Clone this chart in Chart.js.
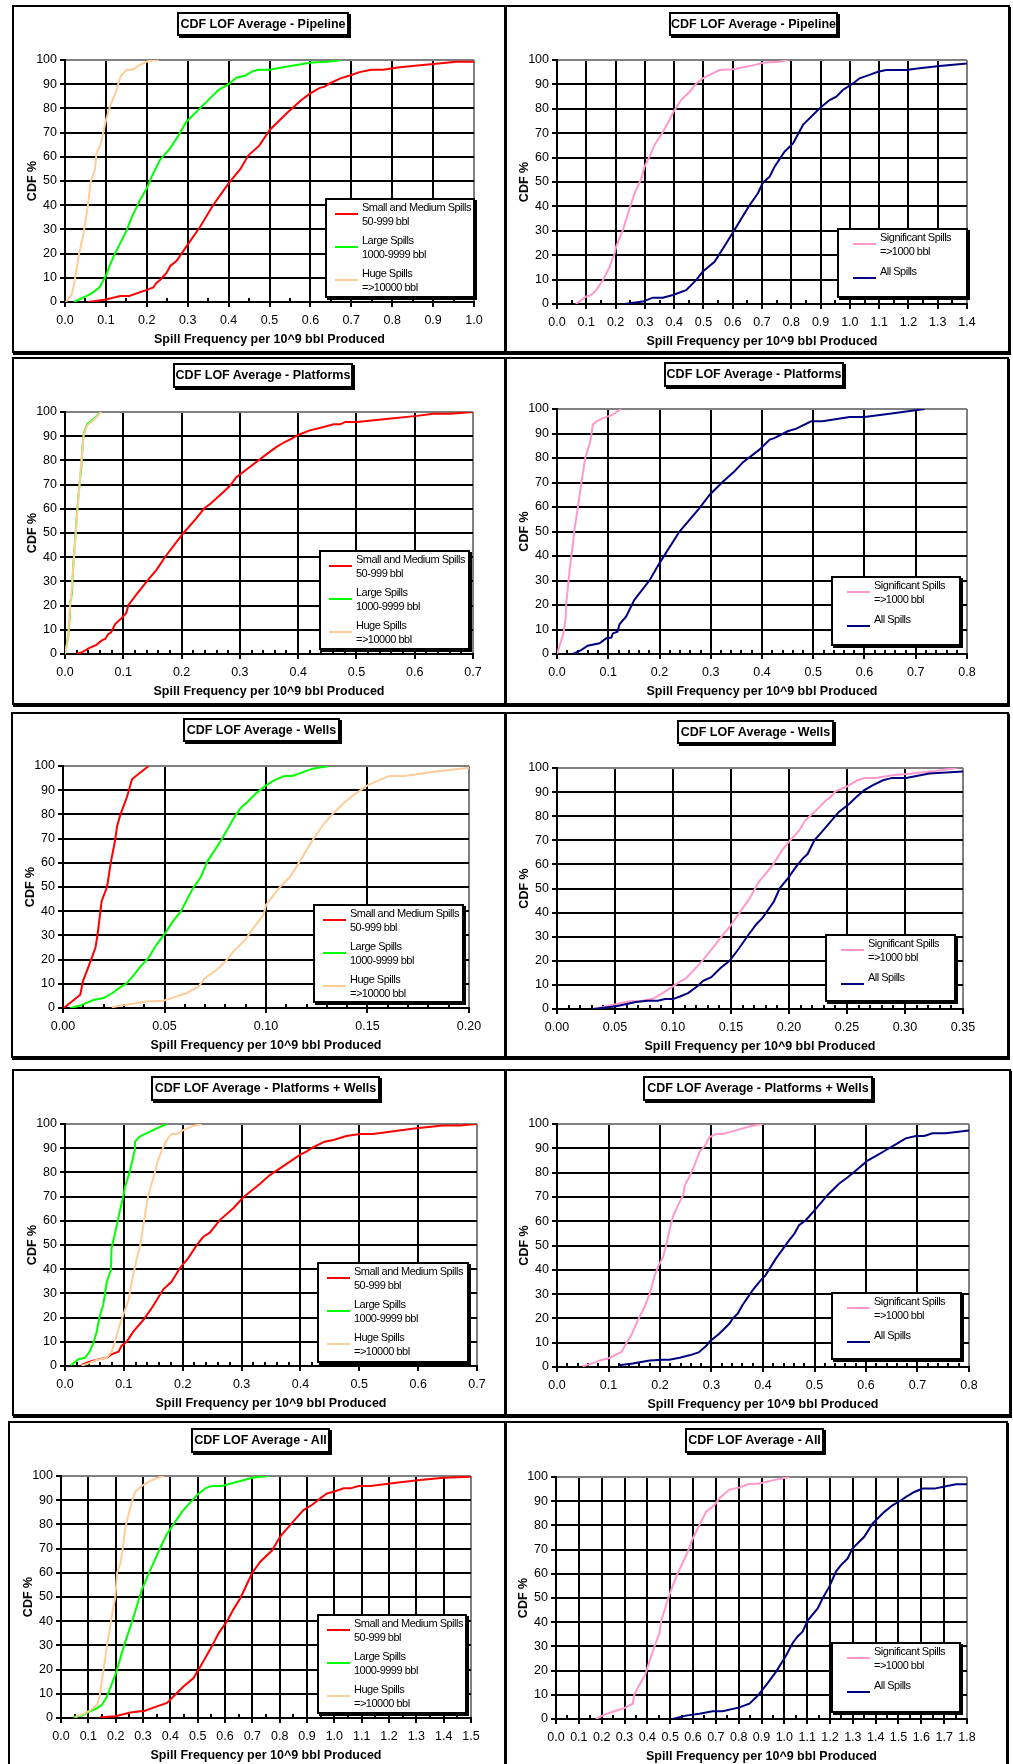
<!DOCTYPE html>
<html><head><meta charset="utf-8">
<script src="https://cdn.jsdelivr.net/npm/chart.js@4.4.1/dist/chart.umd.min.js"></script>
<style>
html,body{margin:0;padding:0;background:#fff;}
body{position:relative;width:1013px;height:1764px;overflow:hidden;font-family:"Liberation Sans",Arial,sans-serif;}
.frame{position:absolute;border:2px solid #000;box-sizing:border-box;box-shadow:1px 2px 0 #000;background:#fff;}
.ttl{position:absolute;border:2px solid #000;box-sizing:border-box;background:#fff;box-shadow:2px 2px 0 #000;font-weight:bold;font-size:12.5px;text-align:center;white-space:nowrap;color:#000;}
.leg{position:absolute;border:2px solid #000;box-sizing:border-box;background:#fff;box-shadow:2px 2px 0 #000;}
.leg .ln{position:absolute;height:2px;}
.leg .tx{position:absolute;font-size:11px;letter-spacing:-0.5px;line-height:14px;white-space:nowrap;color:#000;}
canvas{position:absolute;}
</style></head>
<body>
<script>
// ---------- DATA (x = spill frequency per 10^9 bbl, y = CDF %) ----------
const seriesNamesA = ['Small and Medium Spills|50-999 bbl', 'Large Spills|1000-9999 bbl', 'Huge Spills|=>10000 bbl'];
const seriesNamesB = ['Significant Spills|=>1000 bbl', 'All Spills'];
const yTicks = [0,10,20,30,40,50,60,70,80,90,100];

const pipeSmall = [[0.057,0],[0.1,1],[0.135,2.5],[0.157,2.5],[0.2,5],[0.216,6],[0.224,8],[0.232,9],[0.248,12],[0.258,15],[0.273,17],[0.297,23],[0.33,31],[0.362,40],[0.4,49],[0.429,55],[0.448,60.5],[0.475,64.6],[0.5,71],[0.542,78],[0.578,83.5],[0.598,86],[0.623,88.5],[0.635,89],[0.648,90.4],[0.672,92.3],[0.7,93.8],[0.72,95],[0.749,96],[0.778,96],[0.818,97],[0.9,98.3],[0.957,99.3],[1.0,99.3]];
const pipeLarge = [[0.022,0],[0.053,2.5],[0.065,3.6],[0.084,6],[0.1,10.7],[0.11,15.3],[0.122,20],[0.151,29.7],[0.163,35],[0.183,42],[0.2,47],[0.212,51.8],[0.232,58.7],[0.257,63.5],[0.273,67.6],[0.297,74.5],[0.33,80],[0.375,87.6],[0.4,90],[0.419,92.7],[0.44,93.5],[0.46,95.5],[0.476,96],[0.5,96],[0.533,97],[0.603,99],[0.643,99.3],[0.676,100]];
const pipeHuge = [[0.002,0],[0.016,3],[0.022,7],[0.033,18.7],[0.045,28],[0.055,38.7],[0.063,49.7],[0.073,54.5],[0.077,61.4],[0.088,65.6],[0.1,75],[0.11,81],[0.125,87],[0.136,93.4],[0.151,96],[0.165,96],[0.183,98],[0.204,99.6],[0.23,100]];
const pipeSig = [[0.064,0],[0.083,1.6],[0.098,3],[0.117,3.7],[0.134,5.7],[0.157,9.8],[0.18,15.3],[0.197,20.8],[0.202,23.5],[0.225,30.3],[0.248,39.2],[0.265,45.4],[0.288,51.5],[0.299,56.3],[0.316,60.4],[0.333,65.2],[0.362,70.6],[0.384,75.4],[0.396,78.4],[0.424,83.6],[0.453,87],[0.476,90.4],[0.498,92.5],[0.521,93.9],[0.555,95.9],[0.601,96.2],[0.658,97.5],[0.709,99],[0.76,99.3],[0.788,100]];
const pipeAll = [[0.231,0],[0.293,1],[0.327,2.6],[0.361,2.6],[0.396,3.7],[0.441,5.7],[0.475,9.8],[0.498,13.3],[0.538,17.3],[0.578,24.9],[0.623,33.7],[0.658,40.6],[0.686,45.4],[0.703,49.7],[0.726,52.2],[0.743,56.3],[0.777,62.4],[0.806,65.8],[0.84,73.4],[0.897,80.2],[0.931,83.6],[0.954,85],[0.976,87.7],[1.011,90.4],[1.033,92.5],[1.067,93.9],[1.096,95.2],[1.124,95.9],[1.192,95.9],[1.238,96.6],[1.306,97.5],[1.4,98.6]];

const platSmall = [[0.02,0],[0.029,0.7],[0.042,2.5],[0.054,3.8],[0.063,5.6],[0.069,6.2],[0.074,8.2],[0.079,8.9],[0.086,12.4],[0.097,14.8],[0.105,16.9],[0.109,20.3],[0.123,24.7],[0.14,29.9],[0.157,34.8],[0.172,40.2],[0.203,49.9],[0.223,55.4],[0.239,60.2],[0.249,62],[0.269,66.3],[0.283,69.5],[0.294,73.1],[0.317,77.3],[0.346,82.6],[0.363,85.6],[0.377,87.6],[0.389,89],[0.399,90.4],[0.42,92.4],[0.437,93.4],[0.461,94.9],[0.472,94.9],[0.481,95.9],[0.501,95.9],[0.547,97],[0.604,98.4],[0.632,99.3],[0.661,99.3],[0.7,100]];
const platLarge = [[0,0],[0.006,8],[0.008,15.5],[0.009,21.5],[0.012,25],[0.014,36],[0.017,46],[0.021,59.5],[0.025,70.5],[0.028,77],[0.03,85.5],[0.032,91],[0.038,95],[0.049,97],[0.061,100]];
const platHuge = [[0,0],[0.006,7.3],[0.007,14.8],[0.009,21],[0.011,24.5],[0.014,35.4],[0.017,45],[0.021,58.8],[0.025,69.8],[0.027,76.6],[0.03,84.9],[0.032,90.4],[0.038,94.5],[0.049,96.6],[0.062,100]];
const platSig = [[0,0],[0.012,8],[0.017,14.6],[0.018,20.7],[0.025,35],[0.031,44.6],[0.034,50.7],[0.041,60.2],[0.047,69],[0.055,80],[0.064,86],[0.067,89.5],[0.07,93.6],[0.077,95],[0.09,96.3],[0.109,97.7],[0.125,100]];
const platAll = [[0.031,0],[0.047,1.6],[0.06,3.4],[0.083,4.4],[0.096,6.4],[0.106,6.7],[0.109,8.4],[0.118,9.1],[0.122,12.1],[0.135,15.3],[0.151,22.1],[0.181,30.2],[0.2,37.1],[0.239,50],[0.278,59.5],[0.298,65],[0.324,70.4],[0.346,74.5],[0.363,78.3],[0.395,83.4],[0.415,87.5],[0.424,88.1],[0.45,90.9],[0.467,92],[0.496,95],[0.518,95],[0.571,96.7],[0.6,96.7],[0.649,98.1],[0.717,100]];

const wellSmall = [[0.0003,0],[0.0044,2.7],[0.0085,5.5],[0.0098,11],[0.0135,19.2],[0.016,25],[0.017,30.2],[0.018,37],[0.019,44],[0.0217,50.1],[0.0236,60.4],[0.0257,69.4],[0.0266,74.9],[0.0282,79.7],[0.0315,87.2],[0.034,94.5],[0.0364,96.2],[0.0422,100]];
const wellLarge = [[0.0036,0],[0.0085,1],[0.015,3.3],[0.02,4.1],[0.025,6.5],[0.028,8.5],[0.031,9.9],[0.035,13.7],[0.038,17],[0.042,20.6],[0.046,26.1],[0.05,30.5],[0.054,35.7],[0.058,39.8],[0.064,49.5],[0.068,54.3],[0.071,60.4],[0.078,69.4],[0.085,79.7],[0.088,83.1],[0.091,85.2],[0.095,88.6],[0.1,92],[0.104,94.1],[0.109,95.9],[0.113,95.9],[0.123,98.9],[0.131,100]];
const wellHuge = [[0.024,0.3],[0.0315,1.4],[0.041,2.7],[0.0495,3],[0.056,4.8],[0.061,6.2],[0.0668,8.9],[0.07,12.4],[0.0758,15.8],[0.0807,19.9],[0.084,23.4],[0.0897,28.2],[0.0938,33],[0.0988,38.5],[0.1,42.6],[0.107,50.1],[0.112,54.3],[0.117,61.1],[0.123,69.4],[0.128,75.5],[0.133,80.4],[0.139,85.2],[0.143,87.9],[0.15,92],[0.158,95],[0.161,95.9],[0.168,95.9],[0.182,97.5],[0.2,99.3]];
const wellSig = [[0.0316,0],[0.0425,1.1],[0.0525,2.2],[0.0625,3.2],[0.071,3.2],[0.083,4.3],[0.091,6.6],[0.1,9.4],[0.106,11.4],[0.111,12.6],[0.126,20.4],[0.134,25.2],[0.143,30.8],[0.149,34.2],[0.157,39.7],[0.166,45.9],[0.174,52.8],[0.186,59.7],[0.194,65.9],[0.201,70],[0.209,74.2],[0.214,78.3],[0.222,81.8],[0.232,86.6],[0.236,88],[0.24,90.3],[0.249,92.1],[0.259,94.9],[0.266,95.9],[0.275,95.9],[0.289,97],[0.306,97.7],[0.326,98.8],[0.345,100]];
const wellAll = [[0.0316,0],[0.051,1.1],[0.068,2.9],[0.078,3.4],[0.087,3.4],[0.093,4.1],[0.1,4.1],[0.106,5.2],[0.113,6.6],[0.121,9.4],[0.126,11.7],[0.133,13.2],[0.141,17],[0.149,20.1],[0.157,25.2],[0.164,30.1],[0.172,35.3],[0.177,37.7],[0.187,44.6],[0.192,50.1],[0.199,54.2],[0.206,59],[0.212,62.5],[0.216,64.3],[0.222,70.1],[0.227,72.8],[0.232,75.6],[0.243,81.8],[0.252,85.2],[0.258,88],[0.265,90.8],[0.272,92.8],[0.281,94.9],[0.289,95.9],[0.301,95.9],[0.321,97.7],[0.35,98.6]];

const pwSmall = [[0.028,0.4],[0.042,1.8],[0.059,2.9],[0.071,3.4],[0.079,4.8],[0.091,5.9],[0.096,8.3],[0.105,10.1],[0.116,14.2],[0.133,19],[0.147,23.8],[0.167,31.7],[0.181,34.8],[0.195,40.4],[0.209,44.5],[0.224,50],[0.235,53.4],[0.246,55.1],[0.263,60.3],[0.286,65.2],[0.303,69.7],[0.331,75.2],[0.348,78.9],[0.371,82.6],[0.399,87.2],[0.41,88.6],[0.422,90.4],[0.441,92.7],[0.456,93.4],[0.478,95],[0.501,95.9],[0.523,95.9],[0.597,98.2],[0.642,99.4],[0.671,99.4],[0.7,100]];
const pwLarge = [[0.01,0.3],[0.023,2.8],[0.034,3.4],[0.042,5.9],[0.048,9.4],[0.054,14.2],[0.058,19.7],[0.065,25.2],[0.071,34.8],[0.078,39.7],[0.079,48.6],[0.085,54.8],[0.093,63.8],[0.099,70],[0.102,74.1],[0.11,80.3],[0.116,86.5],[0.119,89.9],[0.119,92.7],[0.127,94.8],[0.141,96.4],[0.156,98.2],[0.173,100]];
const pwHuge = [[0.028,0.1],[0.04,1.1],[0.054,2.5],[0.071,3.4],[0.079,5.9],[0.085,10.1],[0.092,16.3],[0.099,21.1],[0.108,27.3],[0.113,34.2],[0.122,44.5],[0.128,50],[0.134,59.6],[0.141,70],[0.153,80.3],[0.158,85.1],[0.167,90.4],[0.173,93.4],[0.181,95.9],[0.19,95.9],[0.201,97.5],[0.218,99.2],[0.232,100]];
const pwSig = [[0.05,0.3],[0.07,1.6],[0.083,2.7],[0.102,3.7],[0.125,6.2],[0.134,9.6],[0.144,13],[0.157,19.2],[0.17,24.7],[0.18,30.2],[0.189,37.1],[0.196,41.2],[0.206,45.3],[0.212,50.1],[0.219,57],[0.225,61.8],[0.235,66.6],[0.245,70.7],[0.248,74.8],[0.257,78.3],[0.267,83.1],[0.277,88.6],[0.288,91.3],[0.296,94.5],[0.309,95.9],[0.322,95.9],[0.354,97.8],[0.377,99.2],[0.399,100]];
const pwAll = [[0.121,0.7],[0.147,1.4],[0.18,2.7],[0.206,3],[0.218,3],[0.238,3.8],[0.257,4.8],[0.275,6],[0.29,8.7],[0.297,10.6],[0.315,13.7],[0.335,17.9],[0.341,19.9],[0.351,22],[0.36,25.4],[0.38,31.6],[0.393,35],[0.405,37.8],[0.425,44.6],[0.451,52.2],[0.461,54.9],[0.47,58.4],[0.483,60.4],[0.503,65.2],[0.525,70.7],[0.548,75.5],[0.564,78],[0.581,81],[0.603,84.9],[0.622,87.2],[0.639,89.3],[0.661,92],[0.677,94.1],[0.697,95.1],[0.713,95.1],[0.729,96.2],[0.755,96.2],[0.8,97.3]];

const allSmall = [[0.144,0.3],[0.199,0.7],[0.254,2.3],[0.29,2.8],[0.302,2.8],[0.351,4.8],[0.388,6.2],[0.424,10.3],[0.449,13.1],[0.485,16.5],[0.51,21.3],[0.552,29.6],[0.577,35.1],[0.607,39.9],[0.632,45.1],[0.656,49.5],[0.699,59.8],[0.729,64.6],[0.772,69.2],[0.802,75],[0.839,79.8],[0.863,82.9],[0.888,86],[0.918,88],[0.949,90.8],[0.973,92.8],[0.998,93.5],[1.034,94.9],[1.059,94.9],[1.089,95.9],[1.132,95.9],[1.241,97.4],[1.315,98.3],[1.4,99.3],[1.5,99.7]];
const allLarge = [[0.046,0.4],[0.077,1],[0.107,2.8],[0.132,4.1],[0.15,5.5],[0.166,8.3],[0.18,12.4],[0.199,17.9],[0.232,30.3],[0.266,42],[0.296,53.1],[0.327,61.2],[0.357,68.8],[0.388,76.1],[0.443,85.3],[0.498,92.2],[0.528,94.9],[0.552,95.9],[0.589,95.9],[0.656,97.9],[0.705,99.4],[0.76,100]];
const allHuge = [[0.052,0.4],[0.083,1.7],[0.107,3.2],[0.132,5.5],[0.141,8.9],[0.15,15.8],[0.168,29.6],[0.187,42.6],[0.199,50.2],[0.205,59.8],[0.217,63.9],[0.227,70.8],[0.235,78.4],[0.248,84.6],[0.263,90.8],[0.272,93.5],[0.296,95.9],[0.315,97.2],[0.345,99],[0.376,100]];
const allSig = [[0.175,0],[0.212,1.8],[0.255,3.2],[0.299,4.5],[0.336,6.3],[0.343,10],[0.365,14.1],[0.391,18.3],[0.409,23.8],[0.431,29.9],[0.453,35.4],[0.46,40.2],[0.482,47.1],[0.504,53.3],[0.533,60.2],[0.577,69.1],[0.599,74.6],[0.628,80.1],[0.657,85.6],[0.693,88.3],[0.715,91.1],[0.759,94.8],[0.803,95.6],[0.839,97],[0.891,97.3],[0.949,98.6],[1.022,100]];
const allAll = [[0.511,0],[0.569,1.4],[0.628,2.2],[0.686,3.2],[0.73,3.2],[0.803,4.8],[0.847,6.3],[0.883,9.6],[0.927,14.8],[0.964,19.6],[1.007,26.1],[1.036,31.3],[1.058,34.1],[1.08,36.1],[1.102,40.7],[1.146,45.7],[1.168,49.9],[1.197,54.7],[1.226,60.9],[1.248,63.6],[1.277,66.3],[1.299,70.5],[1.35,75.3],[1.387,80.8],[1.438,85.6],[1.474,88.3],[1.511,90.4],[1.533,91.8],[1.569,93.8],[1.606,95.2],[1.657,95.2],[1.708,96.2],[1.752,97],[1.8,97]];

// ---------- STYLE / LAYOUT ----------
const COLS_A = ['#FF0000', '#00FF00', '#FFCC99'];
const COLS_B = ['#FF99CC', '#000080'];
const FONT = '"Liberation Sans", Arial, sans-serif';
const YW = 40, XH = 45;

const panels = [
 {title:'CDF LOF Average - Pipeline', frame:[12,5,506,353], tbox:[177,12,172,24], plot:[65,60,474,302], xMax:1.0, xStep:0.1, dec:1, minor:0.05, data:[pipeSmall,pipeLarge,pipeHuge], names:seriesNamesA, cols:COLS_A, leg:[325,198,150,100]},
 {title:'CDF LOF Average - Pipeline', frame:[505,5,1010,353], tbox:[669,12,169,24], plot:[557,60,967,304], xMax:1.4, xStep:0.1, dec:1, minor:0.05, data:[pipeSig,pipeAll], names:seriesNamesB, cols:COLS_B, leg:[837,228,131,70]},
 {title:'CDF LOF Average - Platforms', frame:[12,357,506,705], tbox:[173,363,180,25], plot:[65,412,473,654], xMax:0.7, xStep:0.1, dec:1, minor:0.02, data:[platSmall,platLarge,platHuge], names:seriesNamesA, cols:COLS_A, leg:[319,550,151,100]},
 {title:'CDF LOF Average - Platforms', frame:[505,357,1009,705], tbox:[664,362,180,25], plot:[557,409,967,654], xMax:0.8, xStep:0.1, dec:1, minor:0.02, data:[platSig,platAll], names:seriesNamesB, cols:COLS_B, leg:[831,576,130,70]},
 {title:'CDF LOF Average - Wells', frame:[11,712,506,1058], tbox:[183,718,157,24], plot:[63,766,469,1008], xMax:0.2, xStep:0.05, dec:2, minor:0.01, data:[wellSmall,wellLarge,wellHuge], names:seriesNamesA, cols:COLS_A, leg:[313,904,151,99]},
 {title:'CDF LOF Average - Wells', frame:[505,712,1009,1058], tbox:[677,720,157,24], plot:[557,768,963,1009], xMax:0.35, xStep:0.05, dec:2, minor:0.01, data:[wellSig,wellAll], names:seriesNamesB, cols:COLS_B, leg:[825,934,131,68]},
 {title:'CDF LOF Average - Platforms + Wells', frame:[12,1069,506,1416], tbox:[151,1076,229,25], plot:[65,1124,477,1366], xMax:0.7, xStep:0.1, dec:1, minor:0.02, data:[pwSmall,pwLarge,pwHuge], names:seriesNamesA, cols:COLS_A, leg:[317,1262,152,101]},
 {title:'CDF LOF Average - Platforms + Wells', frame:[505,1069,1011,1416], tbox:[643,1076,230,25], plot:[557,1124,969,1367], xMax:0.8, xStep:0.1, dec:1, minor:0.02, data:[pwSig,pwAll], names:seriesNamesB, cols:COLS_B, leg:[831,1292,131,68]},
 {title:'CDF LOF Average - All', frame:[8,1421,506,1800], tbox:[191,1428,139,25], plot:[61,1476,471,1718], xMax:1.5, xStep:0.1, dec:1, minor:0.05, data:[allSmall,allLarge,allHuge], names:seriesNamesA, cols:COLS_A, leg:[317,1614,150,100]},
 {title:'CDF LOF Average - All', frame:[505,1421,1008,1800], tbox:[685,1428,139,25], plot:[556,1477,967,1719], xMax:1.8, xStep:0.1, dec:1, minor:0.05, data:[allSig,allAll], names:seriesNamesB, cols:COLS_B, leg:[831,1642,130,71]}
];

const minorTicks = {
  id: 'minorTicks',
  beforeDatasetsDraw(chart, args, opts) {
    const xs = chart.scales.x, ctx = chart.ctx, y0 = chart.chartArea.bottom;
    if (!opts || !opts.step) return;
    const n = Math.round((xs.max - xs.min) / opts.step);
    const ratio = Math.round(opts.major / opts.step);
    ctx.save(); ctx.strokeStyle = '#000'; ctx.lineWidth = 2;
    for (let i = 1; i < n; i++) {
      if (i % ratio === 0) continue;
      const x = Math.round(xs.getPixelForValue(xs.min + i * opts.step));
      ctx.beginPath(); ctx.moveTo(x, y0); ctx.lineTo(x, y0 - 4); ctx.stroke();
    }
    ctx.restore();
  }
};

function el(cls, l, t, w, h, parent) {
  const d = document.createElement('div');
  d.className = cls;
  d.style.left = l + 'px'; d.style.top = t + 'px';
  if (w != null) d.style.width = w + 'px';
  if (h != null) d.style.height = h + 'px';
  (parent || document.body).appendChild(d);
  return d;
}

panels.forEach(p => {
  const [fl, ft, fr, fb] = p.frame;
  el('frame', fl, ft, fr - fl, fb - ft);
  const L = fl + 2, T = ft + 2, R = fr - 2, B = Math.min(fb - 2, 1764);
  const cv = document.createElement('canvas');
  cv.width = R - L; cv.height = B - T;
  cv.style.left = L + 'px'; cv.style.top = T + 'px';
  cv.style.width = (R - L) + 'px'; cv.style.height = (B - T) + 'px';
  document.body.appendChild(cv);
  const [pl, pt, pr, pb] = p.plot;
  const padding = {left: pl - L - YW, top: pt - T, right: R - pr, bottom: B - pb - XH};
  const n = p.data.length;
  const xMax = p.xMax;
  new Chart(cv, {
    type: 'scatter',
    data: {
      datasets: p.data.map((d, i) => ({
        label: p.names[i].replace('|', ' '),
        data: d.map(([x, y]) => ({x, y})),
        showLine: true, borderColor: p.cols[i], backgroundColor: p.cols[i],
        borderWidth: 2, pointRadius: 0, tension: 0, fill: false, order: n - i
      }))
    },
    options: {
      responsive: false, animation: false, devicePixelRatio: 1,
      layout: {padding},
      plugins: {legend: {display: false}, tooltip: {enabled: false}, minorTicks: {step: p.minor, major: p.xStep}},
      scales: {
        x: {
          type: 'linear', min: 0, max: xMax,
          afterFit: s => { s.height = XH; },
          ticks: {stepSize: p.xStep, autoSkip: false, maxRotation: 0, color: '#000', padding: 6,
                  font: {family: FONT, size: 12.5}, callback: v => Number(v).toFixed(p.dec)},
          grid: {color: c => (c.tick && Math.abs(c.tick.value - xMax) < 1e-9) ? '#808080' : '#000',
                 lineWidth: 2, tickLength: 5, tickColor: '#000', tickWidth: 2},
          border: {color: '#000', width: 2},
          title: {display: true, text: 'Spill Frequency per 10^9 bbl Produced', color: '#000', padding: 0,
                  font: {family: FONT, size: 12.5, weight: 'bold'}}
        },
        y: {
          type: 'linear', min: 0, max: 100,
          afterFit: s => { s.width = YW; },
          afterBuildTicks: s => { s.ticks = yTicks.map(v => ({value: v})); },
          ticks: {color: '#000', padding: 3, font: {family: FONT, size: 12.5}},
          grid: {color: c => (c.tick && c.tick.value === 100) ? '#808080' : '#000',
                 lineWidth: 2, tickLength: 5, tickColor: '#000', tickWidth: 2},
          border: {color: '#000', width: 2},
          title: {display: true, text: 'CDF %', color: '#000', padding: 0,
                  font: {family: FONT, size: 12.5, weight: 'bold'}}
        }
      }
    },
    plugins: [minorTicks]
  });
  // title box
  const [tl, tt, tw, th] = p.tbox;
  const tb = el('ttl', tl, tt, tw, th);
  tb.style.lineHeight = (th - 4) + 'px';
  tb.textContent = p.title;
  // legend box
  const [ll, lt, lw, lh] = p.leg;
  const lg = el('leg', ll, lt, lw, lh);
  const gap = n === 3 ? 33 : 34;
  const sampleL = n === 3 ? 8 : 14;
  const textL = n === 3 ? 35 : 41;
  p.names.forEach((nm, i) => {
    const top = 8.5 + gap * i - 2;
    const ln = el('ln', sampleL, top - 1 + 7, 23, 2, lg);
    ln.style.background = p.cols[i];
    nm.split('|').forEach((line, k) => {
      const t = el('tx', textL, top - 7 + 14 * k, null, null, lg);
      t.textContent = line;
    });
  });
});
</script>
</body></html>
